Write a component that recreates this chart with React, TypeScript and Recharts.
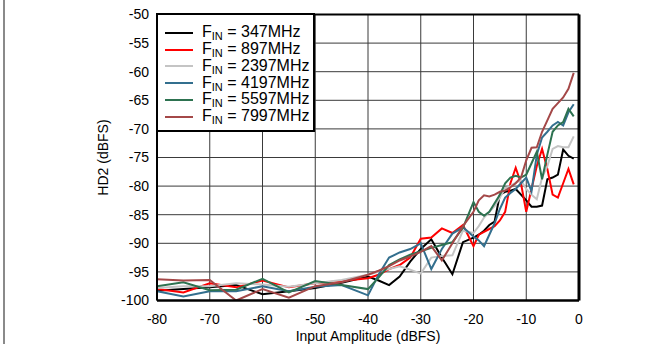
import React from 'react';
import {
  LineChart,
  Line,
  XAxis,
  YAxis,
  CartesianGrid,
  Legend,
  ReferenceLine,
} from 'recharts';

// input amplitude sweep (dBFS)
const AMPLITUDE = [
  -80, -75, -70, -65, -60, -55, -50, -45, -40,
  -38, -36, -34, -32, -30, -28, -26, -24, -22, -20,
  -19, -18, -17, -16, -15, -14, -13, -12, -11, -10,
  -9, -8, -7, -6, -5, -4, -3, -2, -1,
];

// HD2 (dBFS) per input frequency
const HD2_347 = [
  -98.3, -98.0, -97.7, -97.3, -98.9, -98.4, -97.8, -96.9, -95.8,
  -96.5, -97.3, -95.8, -93.2, -91.0, -89.3, -92.5, -95.4, -89.8, -89.0,
  -88.5, -87.8, -86.8, -86.2, -81.5, -81.0, -80.8, -80.5, -81.5, -82.5,
  -83.6, -83.6, -83.4, -78.8, -78.5, -78.0, -73.6, -74.7, -75.2,
];
const HD2_897 = [
  -98.0, -98.6, -97.0, -97.7, -96.5, -97.7, -97.0, -96.6, -96.1,
  -95.5, -94.5, -93.8, -92.5, -89.2, -89.0, -87.4, -88.2, -86.8, -90.5,
  -88.5, -88.0, -87.5, -87.0, -86.0, -84.5, -79.5, -76.8, -79.5, -84.5,
  -80.5, -76.5, -73.5, -77.0, -81.5, -82.0, -79.5, -77.0, -79.7,
];
const HD2_2397 = [
  -97.8, -97.5, -97.5, -97.0, -97.2, -97.6, -97.0, -96.4, -95.5,
  -95.0, -94.5, -94.0, -94.6, -95.3, -92.5, -92.2, -92.1, -87.8, -88.2,
  -87.0, -85.5, -84.5, -83.5, -82.0, -80.4, -80.0, -79.4, -79.0, -80.5,
  -81.5, -82.3, -78.5, -76.5, -73.5, -73.0, -73.2, -73.2, -71.3,
];
const HD2_4197 = [
  -98.4, -99.3, -98.4, -98.4, -97.5, -98.4, -97.6, -97.3, -99.1,
  -95.5, -92.5, -91.6, -91.0, -90.0, -94.5, -91.0, -88.3, -87.2, -88.8,
  -89.5, -90.5, -88.5, -86.5, -84.0, -82.0, -81.2, -80.5, -79.5, -78.5,
  -80.9, -74.5, -71.5, -70.5, -69.4, -68.8, -69.4, -67.1, -65.7,
];
const HD2_5597 = [
  -97.5, -96.8, -98.2, -98.1, -96.2, -98.6, -96.6, -97.3, -98.0,
  -96.0, -93.8, -92.8, -92.0, -91.4, -90.8, -90.3, -89.8, -87.3, -82.8,
  -84.5, -85.2, -84.5, -83.0, -81.5, -79.5, -78.5, -78.2, -78.5, -78.0,
  -76.0, -74.0, -78.8, -74.5, -70.5, -69.4, -68.8, -66.5, -67.8,
];
const HD2_7997 = [
  -96.3, -96.5, -96.4, -100.0, -98.0, -99.5, -97.5, -96.8, -95.5,
  -94.8, -94.0, -93.0, -92.3, -91.5, -90.5, -93.0, -90.0, -87.0, -84.5,
  -82.5, -81.6, -81.8, -81.5, -81.0, -80.8, -80.2, -79.5, -78.5, -75.5,
  -73.3, -73.2, -70.5, -68.5, -66.5, -65.5, -64.5, -63.0, -60.2,
];

const FREQ_LABELS = ['347MHz', '897MHz', '2397MHz', '4197MHz', '5597MHz', '7997MHz'];
const X_TICKS = [-80, -70, -60, -50, -40, -30, -20, -10, 0];
const Y_TICKS = [-100, -95, -90, -85, -80, -75, -70, -65, -60, -55, -50];

const COLORS = ['#000000', '#ff0000', '#c4c4c4', '#336f8e', '#2d7250', '#a44848'];
const SERIES_VALUES = [HD2_347, HD2_897, HD2_2397, HD2_4197, HD2_5597, HD2_7997];

const series = FREQ_LABELS.map((label, i) => ({
  key: `f${i}`,
  label,
  color: COLORS[i],
  values: SERIES_VALUES[i],
}));

const data = AMPLITUDE.map((x, j) => {
  const row: Record<string, number> = { x };
  series.forEach((s) => {
    row[s.key] = s.values[j];
  });
  return row;
});

const FONT = '"Liberation Sans", Arial, Helvetica, sans-serif';

const LegendBox = () => (
  <div
    style={{
      border: '2px solid #000',
      background: '#fff',
      width: 159,
      boxSizing: 'border-box',
      padding: '9.5px 0 5px 7px',
      fontFamily: FONT,
      fontSize: 16,
      color: '#000',
    }}
  >
    {series.map((s) => (
      <div key={s.key} style={{ display: 'flex', alignItems: 'center', height: 16.75 }}>
        <svg width={28} height={4} style={{ marginRight: 9, flexShrink: 0 }}>
          <line x1={0} y1={2} x2={28} y2={2} stroke={s.color} strokeWidth={2} />
        </svg>
        <span style={{ whiteSpace: 'nowrap', lineHeight: '16px' }}>
          F
          <span style={{ fontSize: 11, position: 'relative', top: 3 }}>IN</span>
          {' = '}
          {s.label}
        </span>
      </div>
    ))}
  </div>
);

const tickStyle = { fontSize: 14, fill: '#000', fontFamily: FONT };

const App = () => {
  return (
    <div style={{ position: 'absolute', left: 0, top: 0, width: 660, height: 344, background: '#fff' }}>
      <div style={{ position: 'absolute', left: 3, top: 0, width: 2, height: 344, background: '#8a8a8a' }} />
      <LineChart
        width={660}
        height={344}
        data={data}
        margin={{ top: 14.5, right: 81, bottom: 0, left: 49 }}
      >
        <CartesianGrid stroke="#3a3a3a" strokeWidth={1} />
        <XAxis
          dataKey="x"
          type="number"
          domain={[-80, 0]}
          ticks={X_TICKS}
          allowDataOverflow
          height={43.5}
          tickLine={false}
          tickMargin={7.5}
          axisLine={{ stroke: '#000', strokeWidth: 2.5 }}
          tick={tickStyle}
          label={{
            value: 'Input Amplitude (dBFS)',
            position: 'insideBottom',
            offset: 3.5,
            style: { fontSize: 14, fill: '#000', fontFamily: FONT },
          }}
        />
        <YAxis
          type="number"
          domain={[-100, -50]}
          ticks={Y_TICKS}
          allowDataOverflow
          width={108}
          tickLine={false}
          axisLine={{ stroke: '#000', strokeWidth: 2 }}
          tick={tickStyle}
          label={{
            value: 'HD2 (dBFS)',
            position: 'center',
            angle: -90,
            style: { fontSize: 14, fill: '#000', fontFamily: FONT, textAnchor: 'middle' },
          }}
        />
        <ReferenceLine y={-50} stroke="#000" strokeWidth={2} />
        <ReferenceLine x={0} stroke="#000" strokeWidth={3} />
        <Legend
          layout="vertical"
          align="center"
          verticalAlign="middle"
          content={<LegendBox />}
          wrapperStyle={{ left: 156, top: 13, width: 'auto', height: 'auto' }}
        />
        {series.map((s) => (
          <Line
            key={s.key}
            type="linear"
            dataKey={s.key}
            stroke={s.color}
            strokeWidth={2}
            dot={false}
            isAnimationActive={false}
          />
        ))}
      </LineChart>
    </div>
  );
};

export default App;
